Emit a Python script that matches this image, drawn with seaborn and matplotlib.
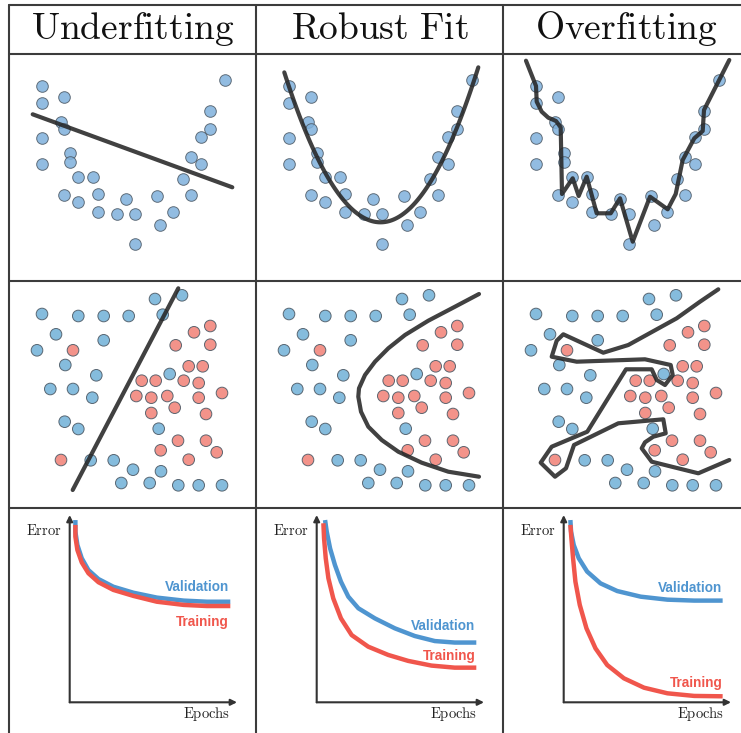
import numpy as np
import pandas as pd
import matplotlib
matplotlib.use("Agg")
import matplotlib.pyplot as plt
from matplotlib.lines import Line2D
import seaborn as sns

sns.set_style("white")
plt.rcParams["mathtext.fontset"] = "cm"
plt.rcParams["font.family"] = ["DejaVu Sans"]

# ---------------------------------------------------------------- data
columns = ["Underfitting", "Robust\\ Fit", "Overfitting"]

# regression sample (U-shaped)
reg_x = [3.33, 3.33, 5.53, 5.2, 5.53, 3.33, 6.13, 6.13, 3.33, 6.93, 8.4, 5.53,
         6.93, 8.87, 8.87, 10.77, 11.7, 12.63, 12.63, 14.77, 15.13, 16.4,
         17.37, 18.17, 18.17, 19.17, 19.17, 20.1, 20.1, 21.63]
reg_y = [19.5, 17.77, 18.43, 15.9, 15.17, 14.27, 12.77, 11.87, 11.73, 10.37,
         10.37, 8.63, 7.9, 8.67, 6.93, 6.73, 8.23, 6.73, 3.73, 8.5, 5.57,
         6.93, 10.23, 8.63, 12.43, 11.73, 14.37, 15.17, 17.03, 20.13]

# regression models
under_line_x = [2.37, 22.33]
under_line_y = [16.67, 9.37]
robust_vertex = (12.45, 5.87)
robust_curvature = 0.162
robust_span = (2.83, 22.23)
over_line_x = [2.3, 3.3, 3.37, 3.87, 4.53, 5.3, 5.77, 5.9, 6.97, 7.57, 8.37,
               9.37, 10.77, 11.7, 12.97, 14.7, 16.47, 17.27, 17.97, 19.13,
               19.97, 20.1, 22.63]
over_line_y = [22.03, 19.5, 17.93, 16.93, 16.33, 16.0, 15.37, 8.7, 10.27, 8.5,
               10.43, 6.77, 6.77, 8.27, 3.93, 8.43, 7.17, 8.7, 12.1, 14.27,
               15.0, 17.1, 22.1]

# classification sample
blue_x = [3.3, 6.93, 9.47, 11.97, 14.6, 17.3, 15.37, 4.7, 9.47, 2.8, 5.63,
          8.73, 16.07, 4.13, 6.4, 8.33, 5.57, 6.93, 14.97, 8.17, 10.47, 12.4,
          15.2, 11.23, 14.07, 16.93, 18.97, 21.3]
blue_y = [19.4, 19.2, 19.2, 19.2, 20.9, 21.27, 19.33, 17.37, 16.77, 15.77,
          14.3, 13.27, 13.4, 11.9, 11.9, 11.03, 8.63, 7.9, 7.93, 4.77, 4.77,
          3.83, 3.67, 2.5, 2.5, 2.27, 2.27, 2.27]
red_x = [6.4, 18.5, 20.13, 16.67, 20.13, 17.97, 19.37, 13.27, 14.67, 17.47,
         18.97, 12.73, 14.23, 15.83, 18.97, 21.3, 16.57, 14.23, 19.7, 16.9,
         19.7, 15.17, 20.77, 17.97, 5.2]
red_y = [15.77, 17.57, 18.2, 16.27, 16.33, 14.17, 14.17, 12.73, 12.73, 12.73,
         12.5, 11.2, 11.03, 11.2, 11.03, 11.5, 10.03, 9.5, 9.4, 6.73, 6.73,
         5.77, 5.57, 4.83, 4.8]

# decision boundaries
under_bound_x = [16.93, 6.37]
under_bound_y = [21.97, 1.8]
robust_bound_x = [22.3, 19.9, 17.23, 14.9, 13.23, 11.9, 10.9, 10.3, 10.23,
                  10.5, 11.23, 12.57, 14.23, 16.57, 19.23, 22.3]
robust_bound_y = [21.4, 20.13, 18.73, 17.3, 15.97, 14.63, 13.3, 11.97, 11.13,
                  9.63, 8.13, 6.8, 5.63, 4.53, 3.63, 3.13]
over_bound_x = [21.53, 19.7, 17.37, 12.53, 10.03, 6.03, 5.37, 4.87, 7.37,
                14.2, 16.77, 16.97, 16.2, 15.37, 14.87, 12.3, 8.43, 4.87, 3.77,
                5.2, 6.3, 7.1, 11.53, 16.03, 16.27, 15.03, 14.2, 13.87, 14.87,
                19.53, 22.63]
over_bound_y = [21.87, 20.63, 18.97, 16.3, 15.53, 17.37, 16.73, 15.13, 14.63,
                14.87, 14.3, 13.3, 12.3, 12.8, 13.87, 13.87, 7.63, 6.13, 4.53,
                3.13, 3.97, 6.3, 8.47, 8.87, 7.47, 7.13, 6.57, 5.97, 4.63,
                3.47, 4.8]

# learning curves (epochs, error in % of axis)
under_val_ep = [3.4, 3.4, 4.6, 7.2, 11.2, 17.2, 26.1, 38.1, 52.1, 68.1, 82.0, 96.0]
under_val_err = [97.3, 91.1, 84.0, 76.9, 70.6, 65.8, 61.7, 58.5, 55.9, 54.3, 53.7, 53.7]
under_trn_ep = [3.4, 3.4, 4.6, 7.2, 11.2, 17.2, 26.1, 38.1, 52.1, 68.1, 82.0, 96.0]
under_trn_err = [94.7, 88.4, 81.3, 74.7, 68.9, 64.1, 60.0, 56.8, 53.7, 52.0, 51.4, 51.4]

robust_val_ep = [5.0, 6.0, 8.0, 10.9, 14.5, 18.9, 24.9, 34.8, 46.7, 58.6, 70.6, 82.5, 95.4]
robust_val_err = [97.3, 91.1, 82.2, 73.3, 64.4, 56.4, 50.2, 44.8, 39.5, 35.4, 32.7, 31.9, 31.9]
robust_trn_ep = [4.0, 4.4, 5.4, 7.0, 9.9, 14.5, 20.9, 30.8, 42.7, 54.7, 68.6, 82.5, 95.4]
robust_trn_err = [95.6, 87.5, 76.9, 66.2, 55.5, 44.8, 35.9, 29.7, 25.3, 22.1, 19.6, 18.5, 18.5]

over_val_ep = [4.0, 4.4, 6.0, 9.0, 14.0, 22.0, 32.0, 46.0, 62.0, 78.0, 95.0]
over_val_err = [97.3, 91.1, 84.0, 76.9, 69.8, 63.5, 59.4, 56.4, 54.8, 54.3, 54.3]
over_trn_ep = [4.0, 4.6, 5.6, 7.0, 9.6, 13.6, 19.0, 26.0, 36.0, 48.0, 62.0, 78.0, 95.0]
over_trn_err = [94.7, 87.5, 76.9, 64.4, 52.0, 39.5, 28.8, 19.9, 12.8, 7.8, 4.8, 3.4, 3.2]

curve_label_pos = [  # (x_right, y_val, y_train)
    (95.2, 61.7, 43.1),
    (94.8, 40.9, 24.7),
    (95.0, 61.2, 10.1),
]

# ---------------------------------------------------------------- style
PT_BLUE = "#7fb1dc"
PT_BLUE2 = "#78b5da"
PT_RED = "#f2877d"
PT_EDGE = "#4d5a66"
FIT = "#262626"
VAL = "#4f95d0"
TRN = "#f0564c"
GRID = "#3c3c3c"

W, H = 741, 733
fig = plt.figure(figsize=(W / 100, H / 100), dpi=100)

col_left = [9, 256, 503]
col_w = 247
row_top = [54, 281, 508]
row_h = 227


def px_axes(left, top, width, height):
    return fig.add_axes([left / W, 1 - (top + height) / H, width / W, height / H])


def hline(y, x0, x1):
    fig.add_artist(Line2D([x0 / W, x1 / W], [1 - y / H, 1 - y / H],
                          transform=fig.transFigure, color=GRID, lw=1.5))


def vline(x, y0, y1):
    fig.add_artist(Line2D([x / W, x / W], [1 - y0 / H, 1 - y1 / H],
                          transform=fig.transFigure, color=GRID, lw=1.5))


# table rules
for y in [4.5, 53.5, 281, 508]:
    hline(y, 9, W)
for x in col_left:
    vline(x, 4.5, H)

# headers
for c, name in enumerate(columns):
    fig.text((col_left[c] + col_w / 2) / W, 1 - 39 / H, r"$\mathrm{%s}$" % name,
             ha="center", va="baseline", fontsize=27, color="#111111")

reg_df = pd.DataFrame({"x": reg_x, "y": reg_y})
cls_df = pd.DataFrame({
    "x": blue_x + red_x,
    "y": blue_y + red_y,
    "cls": ["a"] * len(blue_x) + ["b"] * len(red_x),
})

line_kw = dict(color=FIT, lw=3.0, alpha=0.88, sort=False, estimator=None,
               zorder=3)

# ---- row 1: regression
for c in range(3):
    ax = px_axes(col_left[c], row_top[0], col_w, row_h)
    ax.set_xlim(0, 24.7)
    ax.set_ylim(0, 22.7)
    ax.axis("off")
    sns.scatterplot(data=reg_df, x="x", y="y", ax=ax, s=70, color=PT_BLUE,
                    edgecolor=PT_EDGE, linewidth=0.7, alpha=0.85, zorder=2)
    if c == 0:
        sns.lineplot(x=under_line_x, y=under_line_y, ax=ax, **line_kw)
    elif c == 1:
        xs = np.linspace(*robust_span, 120)
        ys = robust_vertex[1] + robust_curvature * (xs - robust_vertex[0]) ** 2
        sns.lineplot(x=xs, y=ys, ax=ax, **line_kw)
    else:
        sns.lineplot(x=over_line_x, y=over_line_y, ax=ax, **line_kw)
    for l in ax.lines:
        l.set_solid_joinstyle("round")
        l.set_clip_on(False)

# ---- row 2: classification
bounds = [(under_bound_x, under_bound_y), (robust_bound_x, robust_bound_y),
          (over_bound_x, over_bound_y)]
for c in range(3):
    ax = px_axes(col_left[c], row_top[1], col_w, row_h)
    ax.set_xlim(0, 24.7)
    ax.set_ylim(0, 22.7)
    ax.axis("off")
    sns.scatterplot(data=cls_df, x="x", y="y", hue="cls", ax=ax, s=70,
                    palette={"a": PT_BLUE2, "b": PT_RED}, edgecolor=PT_EDGE,
                    linewidth=0.7, alpha=0.9, legend=False, zorder=2)
    bx, by = bounds[c]
    sns.lineplot(x=bx, y=by, ax=ax, **line_kw)
    for l in ax.lines:
        l.set_solid_joinstyle("round")
        l.set_clip_on(False)

# ---- row 3: learning curves
curves = [
    (under_val_ep, under_val_err, under_trn_ep, under_trn_err),
    (robust_val_ep, robust_val_err, robust_trn_ep, robust_trn_err),
    (over_val_ep, over_val_err, over_trn_ep, over_trn_err),
]
for c in range(3):
    ax = px_axes(col_left[c] + 60.7, 515, 167.3, 187.3)
    ax.set_xlim(0, 100)
    ax.set_ylim(0, 100)
    ax.axis("off")
    arrow = dict(arrowstyle="-|>", color="#333333", lw=1.5,
                 mutation_scale=9, shrinkA=0, shrinkB=0)
    ax.annotate("", xy=(100, 0), xytext=(0, 0), arrowprops=arrow,
                annotation_clip=False)
    ax.annotate("", xy=(0, 100), xytext=(0, 0), arrowprops=arrow,
                annotation_clip=False)
    ve, vv, te, tv = curves[c]
    sns.lineplot(x=ve, y=vv, ax=ax, color=VAL, lw=3.2, sort=False,
                 estimator=None)
    sns.lineplot(x=te, y=tv, ax=ax, color=TRN, lw=3.2, sort=False,
                 estimator=None)
    for l in ax.lines:
        l.set_solid_capstyle("butt")
        l.set_solid_joinstyle("round")
        l.set_clip_on(False)
    lx, lyv, lyt = curve_label_pos[c]
    ax.text(lx, lyv, "Validation", ha="right", va="center", color=VAL,
            fontsize=9.8, fontweight="bold", family="Liberation Sans")
    ax.text(lx, lyt, "Training", ha="right", va="center", color=TRN,
            fontsize=9.8, fontweight="bold", family="Liberation Sans")
    ax.text(-4.4, 91.5, r"$\mathrm{Error}$", ha="right", va="center",
            fontsize=10.5, color="#222222")
    ax.text(95.6, -6.4, r"$\mathrm{Epochs}$", ha="right", va="center",
            fontsize=10.5, color="#222222")

fig.savefig("out.png", dpi=100, facecolor="white")
